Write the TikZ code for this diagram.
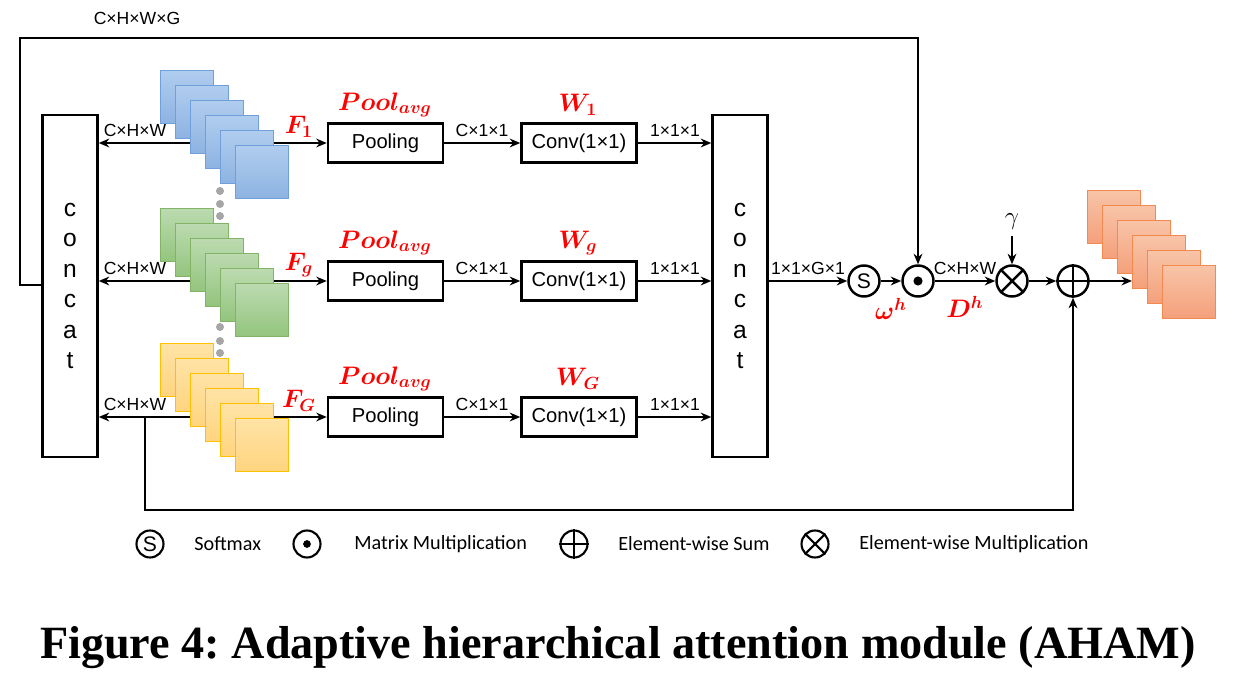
\documentclass[tikz,border=0pt]{standalone}
\usepackage{amsmath, amssymb}
\usepackage{fontspec}
\setmainfont{Liberation Serif}
\setsansfont{Liberation Sans}
\newfontfamily\legendfont{Carlito}
\usetikzlibrary{arrows.meta}

\definecolor{blueedge}{HTML}{6FA0DC}
\definecolor{bluetop}{HTML}{B0CDEE}
\definecolor{bluebot}{HTML}{8DB3E2}
\definecolor{greenedge}{HTML}{82B366}
\definecolor{greentop}{HTML}{BCDBB0}
\definecolor{greenbot}{HTML}{93C47D}
\definecolor{yellowedge}{HTML}{FFC000}
\definecolor{yellowtop}{HTML}{FFE3A6}
\definecolor{yellowbot}{HTML}{FFD47F}
\definecolor{orangeedge}{HTML}{F4894F}
\definecolor{orangetop}{HTML}{F8C4A8}
\definecolor{orangebot}{HTML}{F4A07A}

\tikzset{
  box/.style={draw, line width=1.4pt, minimum width=2.3cm, minimum height=0.78cm,
    inner sep=0pt, font=\sffamily\fontsize{11.5}{13}\selectfont},
  catbox/.style={draw, line width=1.4pt, minimum width=1.1cm, minimum height=6.84cm,
    align=center, font=\sffamily\fontsize{14}{17.4}\selectfont},
  dimlabel/.style={inner sep=0pt, font=\sffamily\fontsize{10}{12}\selectfont},
  redlabel/.style={inner sep=0pt, text=red, font=\fontsize{14}{16}\selectfont},
  op/.style={draw, circle, line width=1.4pt, minimum size=0.62cm, inner sep=0pt,
    font=\sffamily\fontsize{12}{14}\selectfont},
  legop/.style={op, line width=1.2pt, minimum size=0.54cm},
  legtext/.style={anchor=west, inner sep=0pt, font=\legendfont\fontsize{11.5}{13}\selectfont},
  arr/.style={-{Stealth[length=6pt, width=5pt]}, line width=1.1pt},
  featmap/.style={draw=#1edge, top color=#1top, bottom color=#1bot, line width=0.6pt,
    minimum size=1.06cm, inner sep=0pt}
}

\begin{document}
\begin{tikzpicture}[x=0.02cm, y=-0.02cm]
    \useasboundingbox (0,0) rectangle (1243,678);

    % concat boxes
    \node[catbox] (lcat) at (70,286) {c\\o\\n\\c\\a\\t};
    \node[catbox] (rcat) at (740,286) {c\\o\\n\\c\\a\\t};

    % three branches
    \foreach \n/\y/\f/\w in {1/143/F_1/W_1, 2/281/F_g/W_g, 3/417/F_G/W_G} {
        \coordinate (f\n) at (240,\y);
        \node[box] (pool\n) at (385.5,\y) {Pooling};
        \node[box] (conv\n) at (579,\y) {Conv(1×1)};
        \draw[arr] (f\n) -- (lcat.east |- f\n);
        \draw[arr] (f\n) -- (pool\n.west);
        \draw[arr] (pool\n.east) -- (conv\n.west);
        \draw[arr] (conv\n.east) -- (rcat.west |- conv\n);
        \node[dimlabel] at (135,\y-13) {C×H×W};
        \node[dimlabel] at (482,\y-13) {C×1×1};
        \node[dimlabel] at (675,\y-13) {1×1×1};
        \node[redlabel] at (299,\y-16) {$\boldsymbol{\f}$};
        \node[redlabel] at (385,\y-38) {$\boldsymbol{Pool_{avg}}$};
        \node[redlabel] at (578,\y-38) {$\boldsymbol{\w}$};
    }

    % feature maps
    \foreach \i in {0,...,5} {
        \node[featmap=blue, anchor=north west] (bmap\i) at (160+15*\i,70+15*\i) {};
        \node[featmap=green, anchor=north west] (gmap\i) at (160+15*\i,208+15*\i) {};
        \node[featmap=yellow, anchor=north west] (ymap\i) at (160+15*\i,343+15*\i) {};
    }
    \foreach \y in {191,204,216,327,341,353}
        \fill[gray!70] (220,\y) circle (0.08cm);

    % attention part
    \node[op] (soft) at (864,281) {S};
    \node[op] (dot) at (918,281) {};
    \fill (dot) circle (2.6pt);
    \node[op] (mul) at (1012,281) {};
    \draw[line width=1.4pt] (mul.north west) -- (mul.south east) (mul.north east) -- (mul.south west);
    \node[op] (add) at (1073,281) {};
    \draw[line width=1.4pt] (add.north) -- (add.south) (add.west) -- (add.east);
    \node (gam) at (1012,222) {\fontsize{14}{16}\selectfont$\gamma$};

    \draw[arr] (rcat.east |- soft) -- (soft.west);
    \draw[arr] (soft.east) -- (dot.west);
    \draw[arr] (dot.east) -- (mul.west);
    \draw[arr] (mul.east) -- (add.west);
    \draw[arr] (gam.south) -- (mul.north);
    \node[dimlabel] at (808,268) {1×1×G×1};
    \node[dimlabel] at (965,268) {C×H×W};
    \node[redlabel] at (891,309) {$\boldsymbol{\omega^h}$};
    \node[redlabel] at (965,307) {$\boldsymbol{D^h}$};

    % output maps
    \foreach \i in {0,...,5}
        \node[featmap=orange, anchor=north west] (omap\i) at (1087+15*\i,190+15*\i) {};
    \draw[arr] (add.east) -- (omap3.west |- add);

    % skip connections
    \draw[arr] (lcat.west |- 0,285) -- (20,285) |- (dot.north |- 0,38) -- (dot.north);
    \node[dimlabel] at (137,18) {C×H×W×G};
    \coordinate (tap) at (145,417);
    \draw[arr] (tap) -- (145,510) -| (add.south);

    % legend
    \node[legop] (lsoft) at (150,544) {S};
    \node[legtext] at (194,544) {Softmax};
    \node[legop] (ldot) at (307,544) {};
    \fill (ldot) circle (2.2pt);
    \node[legtext] at (354,544) {Matrix Multiplication};
    \node[legop] (ladd) at (574,544) {};
    \draw[line width=1.2pt] (ladd.north) -- (ladd.south) (ladd.west) -- (ladd.east);
    \node[legtext] at (618,544) {Element-wise Sum};
    \node[legop] (lmul) at (815,544) {};
    \draw[line width=1.2pt] (lmul.north west) -- (lmul.south east) (lmul.north east) -- (lmul.south west);
    \node[legtext] at (859,544) {Element-wise Multiplication};

    % caption
    \node[inner sep=0pt, font=\bfseries\fontsize{26.3}{30}\selectfont] (cap) at (618,648)
        {\frenchspacing Figure 4: Adaptive hierarchical attention module (AHAM)};
\end{tikzpicture}
\end{document}
